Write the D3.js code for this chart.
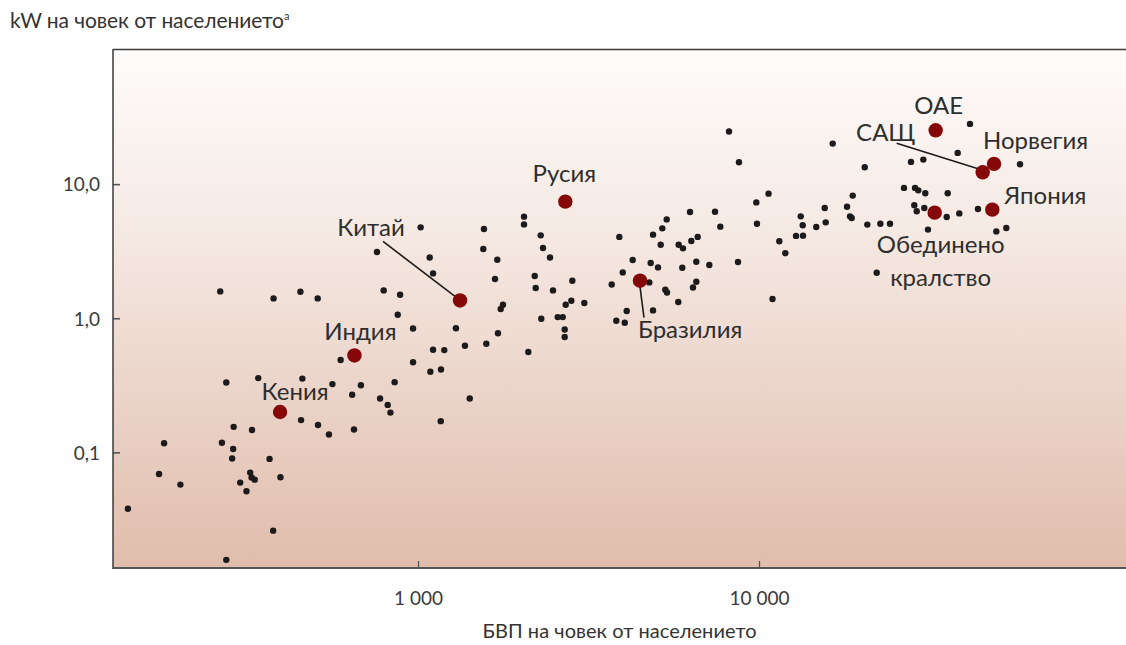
<!DOCTYPE html>
<html>
<head>
<meta charset="utf-8">
<script src="https://cdn.jsdelivr.net/npm/d3@7"></script>
<style>
  html, body { margin: 0; padding: 0; background: #ffffff; }
  svg { display: block; }
  text { font-family: Lato, "Open Sans", sans-serif; fill: #333333; }
</style>
</head>
<body>
<svg id="chart" width="1126" height="645"></svg>
<script>
// GDP per capita (USD) of the unlabelled countries
const gdpPerCapita = [
  141, 174, 180, 201, 263, 266, 274, 274, 288, 287,
  285, 301, 314, 322, 325, 332, 326, 340, 367, 376,
  377, 395, 452, 454, 458, 508, 509, 548, 561, 593,
  641, 649, 680, 758, 774, 793, 815, 830, 854, 872,
  886, 967, 967, 1018, 1082, 1107, 1087, 1107, 1168, 1194,
  1166, 1292, 1373, 1418, 1561, 1554, 1586, 1708, 1682, 1716,
  1775, 1748, 2046, 2046, 2106, 2199, 2214, 2290, 2326, 2438,
  2299, 2488, 2568, 2657, 2693, 2693, 2711, 2816, 2835, 3074,
  3699, 3815, 3894, 3985, 4039, 4093, 4262, 4768, 4813, 4889,
  4889, 5056, 5149, 5205, 5362, 5312, 5373, 5798, 5814, 5985,
  5957, 6276, 6331, 6404, 6548, 6548, 6610, 7150, 7430, 7700,
  8166, 8678, 8736, 9820, 9865, 10665, 10955, 11470, 11945, 12840,
  13255, 13435, 13460, 14720, 15585, 15690, 16450, 18120, 18830, 18490,
  18700, 20420, 20780, 22140, 22690, 24220, 26620, 27910, 28680, 29320,
  30330, 30740, 28540, 29010, 30530, 31300, 35520, 35760, 38250, 38670,
  41570, 43870, 49650, 53120, 58270
];
// installed power, kW per capita, same order
const kwPerCapita = [
  0.038, 0.069, 0.117, 0.0575, 1.585, 0.118, 0.332, 0.0158, 0.155, 0.106,
  0.090, 0.0595, 0.0513, 0.0707, 0.0649, 0.0626, 0.147, 0.358, 0.0894, 0.0261,
  1.406, 0.0653, 1.577, 0.174, 0.355, 1.406, 0.160, 0.136, 0.323, 0.488,
  0.269, 0.148, 0.317, 3.12, 0.252, 1.613, 0.226, 0.198, 0.334, 1.062,
  1.497, 0.839, 0.47, 4.76, 2.84, 2.16, 0.399, 0.582, 0.415, 0.579,
  0.171, 0.842, 0.623, 0.252, 4.63, 3.28, 0.645, 2.73, 1.961, 0.773,
  1.261, 1.171, 5.72, 5.01, 0.56, 2.065, 1.68, 4.15, 3.34, 2.84,
  0.991, 1.613, 1.02, 1.02, 0.825, 0.724, 1.261, 1.351, 1.905, 1.298,
  1.787, 0.958, 4.04, 2.197, 0.926, 1.132, 2.72, 1.85, 2.582, 4.20,
  1.144, 2.394, 3.536, 4.68, 5.46, 1.632, 1.558, 1.321, 3.536, 3.32,
  2.382, 6.20, 3.77, 1.697, 2.64, 1.873, 4.04, 2.495, 6.23, 4.82,
  24.65, 2.627, 14.54, 7.31, 5.07, 8.49, 1.391, 3.754, 3.056, 4.11,
  5.75, 4.93, 4.13, 4.79, 6.64, 5.19, 20.06, 6.79, 8.21, 5.75,
  5.59, 13.35, 4.99, 2.186, 5.07, 5.07, 9.37, 14.64, 9.37, 8.99,
  15.23, 8.54, 6.95, 6.27, 6.64, 4.58, 5.69, 8.54, 17.09, 6.05,
  28.13, 6.53, 4.44, 4.71, 14.05
];

// labelled countries
const countryNames = ["Кения", "Индия", "Китай", "Русия", "Бразилия", "ОАЕ", "САЩ", "Норвегия", "Япония", "Обединено кралство"];
const countryGdp   = [394, 651, 1328, 2704, 4477, 32970, 45290, 48890, 48330, 32750];
const countryKw    = [0.20, 0.528, 1.358, 7.40, 1.905, 25.2, 12.25, 14.15, 6.45, 6.13];

const xTickValues = [1000, 10000];
const xTickLabels = ["1 000", "10 000"];
const yTickValues = [0.1, 1, 10];
const yTickLabels = ["0,1", "1,0", "10,0"];

const yTitle = "kW на човек от населението";
const xTitle = "БВП на човек от населението";

// label placement relative to each red dot (pixels): text anchor, offset, optional leader line
const labelLayout = {
  "Кения":    { anchor: "middle", dx: 15,  dy: -12 },
  "Индия":    { anchor: "middle", dx: 6,   dy: -15 },
  "Китай":    { anchor: "middle", dx: -89, dy: -64, leader: [[-77, -59], [-5, -4]] },
  "Русия":    { anchor: "middle", dx: -1,  dy: -20 },
  "Бразилия": { anchor: "start",  dx: -2,  dy: 57,  leader: [[0, 6], [4, 37]] },
  "ОАЕ":      { anchor: "middle", dx: 3,   dy: -16 },
  "САЩ":      { anchor: "middle", dx: -97, dy: -31, leader: [[-86, -29], [-3, -3]] },
  "Норвегия": { anchor: "start",  dx: -11, dy: -15 },
  "Япония":   { anchor: "start",  dx: 12,  dy: -6 },
  "Обединено кралство": { anchor: "middle", dx: 6, dy: 40, lineGap: 33 }
};

const plot = { left: 113, top: 50, right: 1126, bottom: 568 };

const svg = d3.select("#chart");

const x = d3.scaleLog().domain([127.5, 119200]).range([plot.left, plot.right]);
const y = d3.scaleLog().domain([0.01374, 100]).range([plot.bottom, plot.top]);

// background gradient
const defs = svg.append("defs");
const grad = defs.append("linearGradient")
  .attr("id", "bg").attr("x1", 0).attr("y1", 0).attr("x2", 0).attr("y2", 1);
grad.append("stop").attr("offset", "0%").attr("stop-color", "#fefcfb");
grad.append("stop").attr("offset", "35%").attr("stop-color", "#f5e9e3");
grad.append("stop").attr("offset", "100%").attr("stop-color", "#e0bdac");

svg.append("rect")
  .attr("x", plot.left).attr("y", plot.top)
  .attr("width", plot.right - plot.left).attr("height", plot.bottom - plot.top)
  .attr("fill", "url(#bg)");

// axes with inward ticks
const yAxis = d3.axisRight(y)
  .tickValues(yTickValues)
  .tickSize(7)
  .tickFormat((d, i) => yTickLabels[i]);
const gy = svg.append("g").attr("transform", `translate(${plot.left},0)`).call(yAxis);
gy.select(".domain").remove();
gy.selectAll(".tick line").attr("stroke", "#555").attr("stroke-width", 1.6);
gy.selectAll(".tick text")
  .attr("x", -13).attr("dy", "0.36em")
  .attr("text-anchor", "end")
  .style("font-size", "19px").style("fill", "#3a3a3a");

const xAxis = d3.axisTop(x)
  .tickValues(xTickValues)
  .tickSize(7)
  .tickFormat((d, i) => xTickLabels[i]);
const gx = svg.append("g").attr("transform", `translate(0,${plot.bottom})`).call(xAxis);
gx.select(".domain").remove();
gx.selectAll(".tick line").attr("stroke", "#555").attr("stroke-width", 1.3);
gx.selectAll(".tick text")
  .attr("y", 37).attr("dy", 0)
  .style("font-size", "19px").style("fill", "#3a3a3a");

// unlabelled countries
svg.append("g").selectAll("circle")
  .data(gdpPerCapita.map((g, i) => [g, kwPerCapita[i]]))
  .join("circle")
  .attr("cx", d => x(d[0]))
  .attr("cy", d => y(d[1]))
  .attr("r", 3.2)
  .attr("fill", "#1c1a1a");

// labelled countries
const named = countryNames.map((n, i) => ({ name: n, gdp: countryGdp[i], kw: countryKw[i], lay: labelLayout[n] }));

svg.append("g").selectAll("line")
  .data(named.filter(d => d.lay.leader))
  .join("line")
  .attr("x1", d => x(d.gdp) + d.lay.leader[0][0])
  .attr("y1", d => y(d.kw) + d.lay.leader[0][1])
  .attr("x2", d => x(d.gdp) + d.lay.leader[1][0])
  .attr("y2", d => y(d.kw) + d.lay.leader[1][1])
  .attr("stroke", "#1c1a1a").attr("stroke-width", 1.6);

svg.append("g").selectAll("circle")
  .data(named)
  .join("circle")
  .attr("cx", d => x(d.gdp))
  .attr("cy", d => y(d.kw))
  .attr("r", 7.2)
  .attr("fill", "#850707");

const labels = svg.append("g").selectAll("text")
  .data(named)
  .join("text")
  .attr("text-anchor", d => d.lay.anchor)
  .attr("x", d => x(d.gdp) + d.lay.dx)
  .attr("y", d => y(d.kw) + d.lay.dy)
  .style("font-size", "24px")
  .style("fill", "#2e2e2e");

labels.each(function (d) {
  const parts = d.name.split(" ");
  const t = d3.select(this);
  if (d.lay.lineGap) {
    parts.forEach((p, i) => {
      t.append("tspan")
        .attr("x", x(d.gdp) + d.lay.dx)
        .attr("dy", i === 0 ? 0 : d.lay.lineGap)
        .text(p);
    });
  } else {
    t.text(d.name);
  }
});

// frame: left, top and bottom rules
const frame = svg.append("g").attr("stroke", "#3a3a3a").attr("fill", "none");
frame.append("line").attr("x1", plot.left).attr("x2", plot.left)
  .attr("y1", plot.top - 1).attr("y2", plot.bottom + 1).attr("stroke-width", 1.5);
frame.append("line").attr("x1", plot.left).attr("x2", plot.right)
  .attr("y1", plot.top - 0.5).attr("y2", plot.top - 0.5).attr("stroke-width", 1.6);
frame.append("line").attr("x1", plot.left).attr("x2", plot.right)
  .attr("y1", plot.bottom).attr("y2", plot.bottom).attr("stroke-width", 2)
  .attr("stroke", "#555");

// axis titles
const yt = svg.append("text")
  .attr("x", 10).attr("y", 28)
  .style("font-size", "21px").style("fill", "#333");
yt.append("tspan").text(yTitle)
  .attr("textLength", 274).attr("lengthAdjust", "spacing");
yt.append("tspan").text("a").attr("dy", -8).style("font-size", "11px");

// x title centred under the plot area
svg.append("text")
  .attr("x", (plot.left + plot.right) / 2 - 137).attr("y", 638)
  .attr("textLength", 274).attr("lengthAdjust", "spacing")
  .style("font-size", "20px")
  .style("fill", "#333")
  .text(xTitle);
</script>
</body>
</html>
